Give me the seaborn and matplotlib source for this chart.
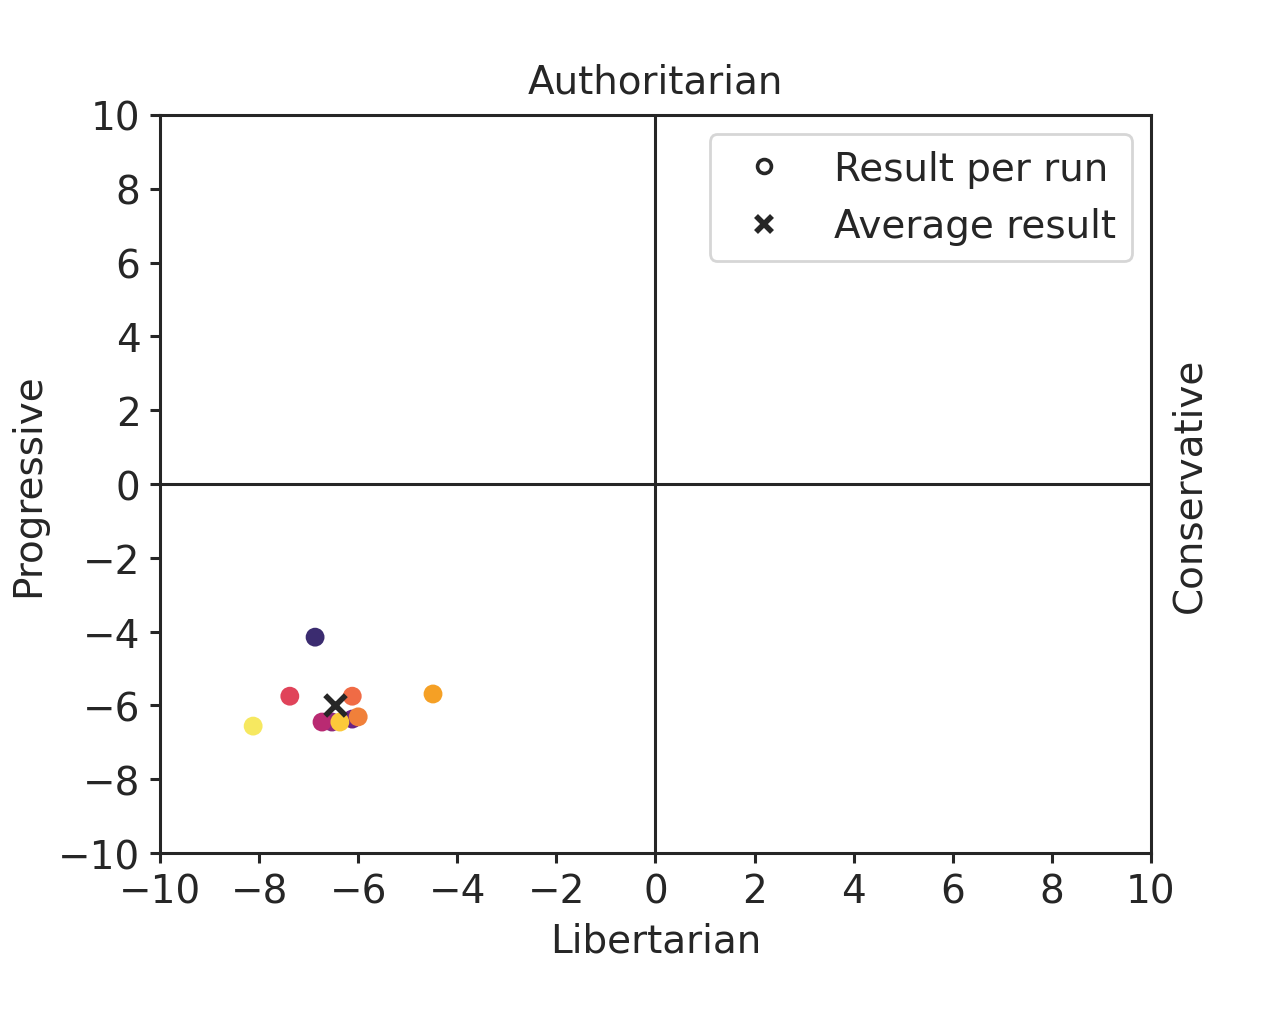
import matplotlib
matplotlib.use("Agg")
import matplotlib.pyplot as plt
from matplotlib.lines import Line2D
import seaborn as sns
import pandas as pd
import numpy as np

# Data
runs = list(range(10))
libertarian = [-6.87, -6.12, -6.53, -6.73, -7.38, -6.12, -6.00, -4.49, -6.37, -8.12]
progressive = [-4.15, -6.37, -6.45, -6.45, -5.75, -5.75, -6.31, -5.69, -6.45, -6.56]
run_colors = ["#3b2c70", "#6a2383", "#8e2a7e", "#b92a72", "#e0435a",
              "#f06b45", "#f0803a", "#f5a025", "#fcc93a", "#f6e860"]
ticks = [-10, -8, -6, -4, -2, 0, 2, 4, 6, 8, 10]
legend_labels = ["Result per run", "Average result"]

sns.set_theme(style="ticks", font_scale=1.0)
plt.rcParams["font.family"] = ["DejaVu Sans"]
FS = 14

df = pd.DataFrame({"run": runs, "x": libertarian, "y": progressive})
avg_x = float(np.mean(libertarian))
avg_y = float(np.mean(progressive))

fig = plt.figure(figsize=(6.4, 5.1), dpi=200)
ax = fig.add_axes([0.125, 0.1627, 0.7742, 0.7236])

ax.axhline(0, color="#262626", lw=1.1, zorder=1)
ax.axvline(0, color="#262626", lw=1.1, zorder=1)

sns.scatterplot(data=df, x="x", y="y", hue="run", palette=run_colors,
                s=46, linewidth=0, legend=False, ax=ax, zorder=3)
ax.scatter([avg_x], [avg_y], marker="x", s=55, color="#262626",
           linewidths=2.0, zorder=4)

ax.set_xlim(-10, 10)
ax.set_ylim(-10, 10)
ax.set_xticks(ticks)
ax.set_yticks(ticks)
ax.tick_params(labelsize=FS, length=3.5, width=1.1, color="#262626")
for sp in ax.spines.values():
    sp.set_linewidth(1.1)
    sp.set_color("#262626")

ax.set_title("Authoritarian", fontsize=FS, pad=8)
ax.set_xlabel("Libertarian", fontsize=FS)
ax.set_ylabel("Progressive", fontsize=FS)
ax.text(1.039, 0.5, "Conservative", transform=ax.transAxes, rotation=90,
        ha="center", va="center", fontsize=FS, color="#262626")

handles = [
    Line2D([], [], marker="o", linestyle="none", markerfacecolor="white",
           markeredgecolor="#262626", markersize=5, markeredgewidth=1.3),
    Line2D([], [], marker="x", linestyle="none", color="#262626",
           markersize=5.5, markeredgewidth=2.0),
]
ax.legend(handles, legend_labels, loc="upper right", fontsize=FS,
          frameon=True)

fig.savefig("out.png", dpi=200)
